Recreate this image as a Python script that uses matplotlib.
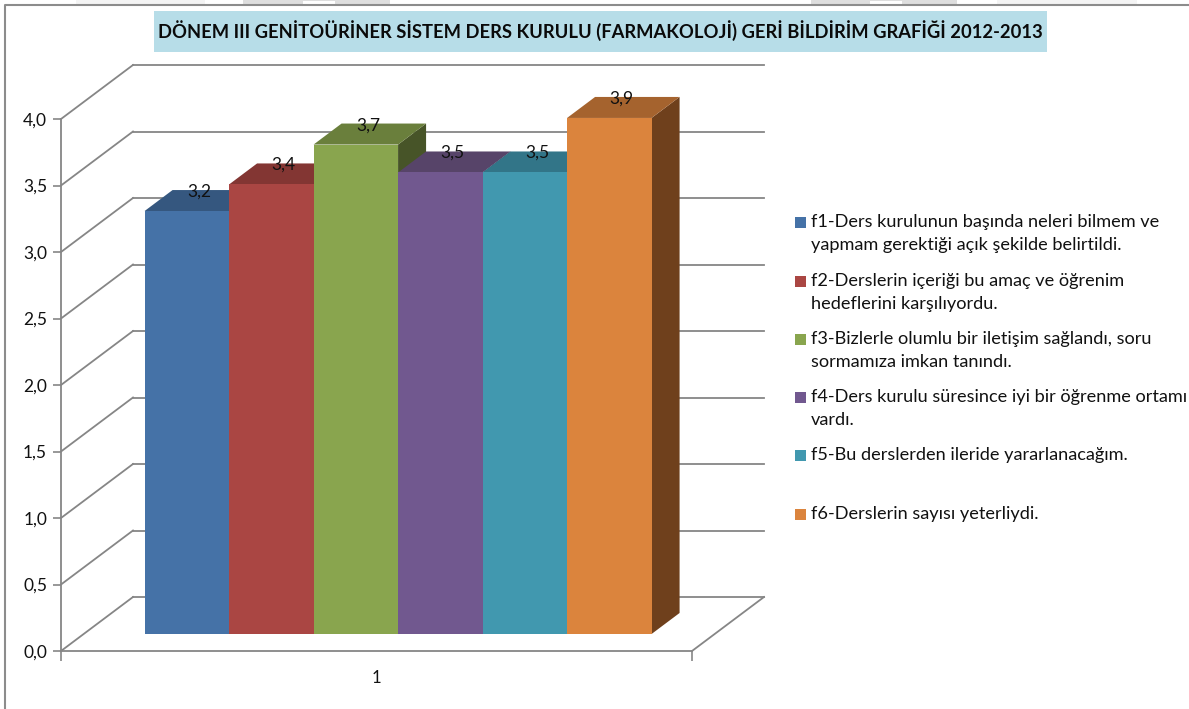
import matplotlib
matplotlib.use("Agg")
import matplotlib.pyplot as plt
from matplotlib.patches import Polygon, Rectangle

W, H = 1189, 709

# bar heights, the labels are rounded to one decimal
values = [3.18, 3.38, 3.68, 3.47, 3.47, 3.88]
value_labels = ["3,2", "3,4", "3,7", "3,5", "3,5", "3,9"]
front_colors = ["#4572a7", "#aa4643", "#89a54e", "#71588f", "#4198af", "#db843d"]
top_colors = ["#35577f", "#833633", "#6a7f3c", "#574469", "#327588", "#a5632e"]
side_colors = ["#2a4566", "#682b29", "#475428", "#3f3150", "#275d6c", "#6f401c"]
legend_labels = [
    "f1-Ders kurulunun başında neleri bilmem ve\nyapmam gerektiği açık şekilde belirtildi.",
    "f2-Derslerin içeriği bu amaç ve öğrenim\nhedeflerini karşılıyordu.",
    "f3-Bizlerle olumlu bir iletişim sağlandı, soru\nsormamıza imkan tanındı.",
    "f4-Ders kurulu süresince iyi bir öğrenme ortamı\nvardı.",
    "f5-Bu derslerden ileride yararlanacağım.",
    "f6-Derslerin sayısı yeterliydi.",
]
y_ticks = [0.0, 0.5, 1.0, 1.5, 2.0, 2.5, 3.0, 3.5, 4.0]
y_tick_labels = ["0,0", "0,5", "1,0", "1,5", "2,0", "2,5", "3,0", "3,5", "4,0"]
title = "DÖNEM III GENİTOÜRİNER SİSTEM DERS KURULU (FARMAKOLOJİ) GERİ BİLDİRİM GRAFİĞİ 2012-2013"

plt.rcParams["font.family"] = ["Lato", "DejaVu Sans"]

GRID = "#868686"
# fake 3d: depth 1 = back wall
DX = 72 / 631
DY = 54 / 133
BAR_W = 84.5 / 631
BAR_X0 = 0.0965
D_FRONT = 0.315
D_BACK = 0.704


def proj(x, v, d):
    return (x + d * DX, v + d * DY)


def px(x, y):
    return (x / W, 1 - y / H)


fig = plt.figure(figsize=(W / 100, H / 100), dpi=100)
ax = fig.add_axes([61 / W, (H - 651) / H, 631 / W, 532 / H])
ax.set_xlim(0, 1)
ax.set_ylim(0, 4)
ax.patch.set_alpha(0)

for s in ["top", "right"]:
    ax.spines[s].set_visible(False)
for s in ["left", "bottom"]:
    ax.spines[s].set_color(GRID)
    ax.spines[s].set_linewidth(1.3)

ax.set_yticks(y_ticks)
ax.set_yticklabels(y_tick_labels, fontsize=12.5, color="#111111")
ax.tick_params(axis="y", length=6, width=1.2, color=GRID, pad=4)
ax.set_xticks([0, 1])
ax.set_xticklabels(["", ""])
ax.set_xticks([0.5], minor=True)
ax.set_xticklabels(["1"], minor=True, fontsize=12, color="#111111")
ax.tick_params(axis="x", which="major", length=7, width=1.2, color=GRID)
ax.tick_params(axis="x", which="minor", length=0, pad=14)

# walls and floor
for v in y_ticks:
    x0, y0 = proj(0, v, 1)
    x1, y1 = proj(1, v, 1)
    ax.plot([0, x0], [v, y0], color=GRID, lw=1.3, clip_on=False, zorder=1)
    ax.plot([x0, x1], [y0, y1], color=GRID, lw=1.3, clip_on=False, zorder=1)
x1, y1 = proj(1, 0, 1)
ax.plot([1, x1], [0, y1], color=GRID, lw=1.3, clip_on=False, zorder=1)

# bars, left to right so each covers the side of the one before
for i, v in enumerate(values):
    x0 = BAR_X0 + i * BAR_W
    x1 = x0 + BAR_W
    z = 2 + i
    top = [proj(x0, v, D_FRONT), proj(x1, v, D_FRONT), proj(x1, v, D_BACK), proj(x0, v, D_BACK)]
    side = [proj(x1, 0, D_FRONT), proj(x1, 0, D_BACK), proj(x1, v, D_BACK), proj(x1, v, D_FRONT)]
    front = [proj(x0, 0, D_FRONT), proj(x1, 0, D_FRONT), proj(x1, v, D_FRONT), proj(x0, v, D_FRONT)]
    ax.add_patch(Polygon(side, fc=side_colors[i], ec="none", clip_on=False, zorder=z))
    ax.add_patch(Polygon(top, fc=top_colors[i], ec="none", clip_on=False, zorder=z))
    ax.add_patch(Polygon(front, fc=front_colors[i], ec="none", clip_on=False, zorder=z))

for i, v in enumerate(values):
    lx, ly = proj(BAR_X0 + (i + 0.5) * BAR_W, v - 0.012, D_BACK)
    ax.text(lx - 0.025, ly, value_labels[i], ha="center", va="center",
            fontsize=12.5, color="#111111", zorder=20, clip_on=False)

# bits of the page watermark above the border
for wx, ww, wc in [(76, 129, "#f4f4f4"), (243, 147, "#dedede"), (811, 146, "#dedede"), (997, 140, "#f4f4f4")]:
    fig.patches.append(Rectangle(px(wx, 4), ww / W, 4 / H, transform=fig.transFigure, fc=wc, ec="none"))
for wx in [303, 870]:
    fig.patches.append(Rectangle(px(wx, 4), 32 / W, 3 / H, transform=fig.transFigure, fc="white", ec="none"))

# page border
fig.add_artist(plt.Line2D([5 / W, 5 / W, 1], [0, 1 - 5 / H, 1 - 5 / H], color="#8c8c8c", lw=1.5))

# title
fig.patches.append(Rectangle(px(154, 52), 893 / W, 41 / H, transform=fig.transFigure, fc="#b7dde8", ec="none"))
tx, ty = px(600.5, 31)
fig.text(tx, ty, title, ha="center", va="center", fontsize=13.25, fontweight="bold", color="#0a0a0a")

# legend
legend_y = [222, 281, 339, 397, 455, 514]
for lab, col, ly in zip(legend_labels, front_colors, legend_y):
    fig.patches.append(Rectangle(px(795, ly + 6), 11 / W, 11 / H, transform=fig.transFigure, fc=col, ec="none"))
    lx, lyy = px(811, ly - 8)
    fig.text(lx, lyy, lab, ha="left", va="top", fontsize=13.1, color="#111111", linespacing=1.56)

fig.savefig("out.png", dpi=100)
